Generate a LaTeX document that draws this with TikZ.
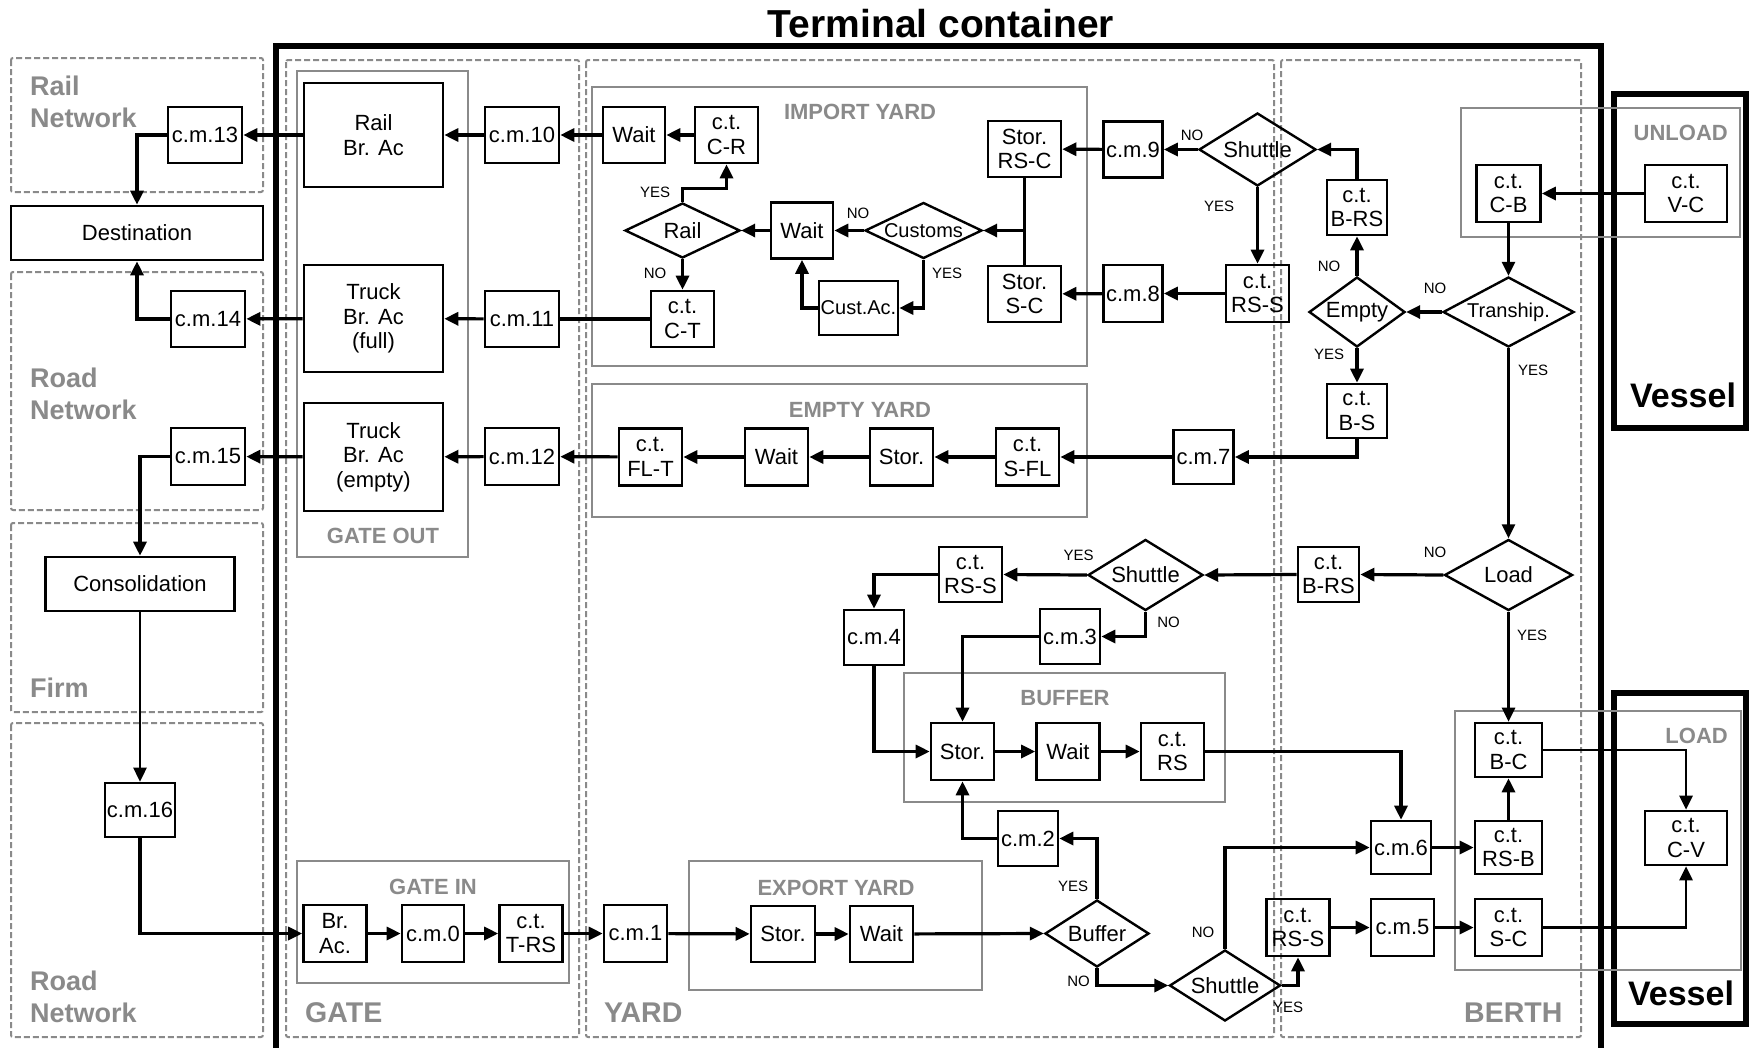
\documentclass[tikz,border=0pt]{standalone}
\usepackage{fontspec}
\setmainfont{Liberation Sans}
\usetikzlibrary{arrows.meta,shapes.geometric}
\definecolor{sgray}{HTML}{8A8A8A}
\tikzset{
 wh/.style 2 args={minimum width=#1pt,minimum height=#2pt},
 bx/.style={draw, line width=2.6pt, inner sep=0pt, align=center, font=\fontsize{22}{24.5}\selectfont},
 bxs/.style={bx, font=\fontsize{20}{22}\selectfont},
 dm/.style={draw, diamond, line width=2.4pt, inner sep=0pt, font=\fontsize{22}{24}\selectfont},
 dms/.style={dm, font=\fontsize{20}{22}\selectfont},
 conn/.style={line width=3.2pt, -{Triangle[length=14pt,width=13pt]}},
 plain/.style={line width=3.2pt},
 yn/.style={font=\fontsize{15}{15}\selectfont, inner sep=0pt},
 glab/.style={text=sgray, font=\bfseries\fontsize{22}{22}\selectfont, inner sep=0pt},
 gbig/.style={text=sgray, font=\bfseries\fontsize{27}{27}\selectfont, inner sep=0pt},
 gbigger/.style={text=sgray, font=\bfseries\fontsize{28.5}{28.5}\selectfont, inner sep=0pt},
 dbox/.style={draw=sgray, dash pattern=on 6pt off 3pt, line width=2pt, rounded corners=2pt},
 gbox/.style={draw=sgray, line width=2.6pt},
 thickbox/.style={draw=black, line width=6pt},
}
\begin{document}
\begin{tikzpicture}[x=1pt,y=-1pt]
\useasboundingbox (0,0) rectangle (1750,1047);
\fill[white] (0,0) rectangle (1750,1047);

% dashed regions
\draw[dbox] (11,58) rectangle (263,192);
\draw[dbox] (11,272) rectangle (263,510);
\draw[dbox] (11,523) rectangle (263,712);
\draw[dbox] (11,723) rectangle (263,1037);
\draw[dbox] (286,60) rectangle (579,1037);
\draw[dbox] (586,60) rectangle (1274,1037);
\draw[dbox] (1281,60) rectangle (1581,1037);

% gray group boxes
\draw[gbox] (297,71) rectangle (468,557);
\draw[gbox] (592,87) rectangle (1087,366);
\draw[gbox] (592,384) rectangle (1087,517);
\draw[gbox] (904,673) rectangle (1225,802);
\draw[gbox] (689,861) rectangle (982,990);
\draw[gbox] (297,861) rectangle (569,983);

% terminal and vessels
\draw[line width=5.5pt] (276,1080) -- (276,46) -- (1601,46) -- (1601,1080);
\draw[thickbox] (1614,94) rectangle (1746,428);
\draw[thickbox] (1614,693) rectangle (1746,1024);
\draw[gbox] (1461,108) rectangle (1740,237);
\draw[gbox] (1455,711) rectangle (1741,970);

% titles and labels
\node[font=\bfseries\fontsize{39}{39}\selectfont, anchor=base, inner sep=0pt] (title) at (941,37) {Terminal container};
\node[gbig, anchor=base west] (lrail1) at (30,95) {Rail};
\node[gbig, anchor=base west] (lrail2) at (30,127) {Network};
\node[gbig, anchor=base west] (lroad1) at (30,387) {Road};
\node[gbig, anchor=base west] (lroad2) at (30,419) {Network};
\node[gbig, anchor=base west] (lfirm) at (30,697) {Firm};
\node[gbig, anchor=base west] (lroad3) at (30,990) {Road};
\node[gbig, anchor=base west] (lroad4) at (30,1022) {Network};
\node[gbigger, anchor=base west] (lgate) at (305,1022) {GATE};
\node[gbigger, anchor=base west] (lyard) at (604,1022) {YARD};
\node[gbigger, anchor=base west] (lberth) at (1464,1022) {BERTH};
\node[glab, anchor=base] (lgo) at (383,543) {GATE OUT};
\node[glab, anchor=base] (lgi) at (433,894) {GATE IN};
\node[glab, anchor=base] (liy) at (860,119) {IMPORT YARD};
\node[glab, anchor=base] (ley) at (860,417) {EMPTY YARD};
\node[glab, anchor=base] (lxy) at (836,895) {EXPORT YARD};
\node[glab, anchor=base] (lbuf) at (1065,705) {BUFFER};
\node[glab, anchor=base east] (lunl) at (1728,140) {UNLOAD};
\node[glab, anchor=base east] (lload) at (1728,743) {LOAD};
\node[font=\bfseries\fontsize{34}{34}\selectfont, anchor=base, inner sep=0pt] (lv1) at (1683,407) {Vessel};
\node[font=\bfseries\fontsize{34}{34}\selectfont, anchor=base, inner sep=0pt] (lv2) at (1681,1005) {Vessel};

% left side nodes
\node[bx, wh={74}{56}] (cm13) at (205,135) {c.m.13};
\node[bx, wh={252}{54}] (dest) at (137,233) {Destination};
\node[bx, wh={74}{56}] (cm14) at (208,319) {c.m.14};
\node[bx, wh={74}{57}] (cm15) at (208,456.5) {c.m.15};
\node[bx, wh={189}{54}] (consol) at (140,584) {Consolidation};
\node[bx, wh={70}{54}] (cm16) at (140,810) {c.m.16};

% gate nodes
\node[bx, wh={139}{104}] (railbr) at (373.5,135) {Rail\\Br. Ac};
\node[bx, wh={139}{107}] (truckfull) at (373.5,318.5) {Truck\\Br. Ac\\ (full)};
\node[bx, wh={139}{108}] (truckempty) at (373.5,457) {Truck\\Br. Ac\\(empty)};
\node[bx, wh={74}{56}] (cm10) at (522,135) {c.m.10};
\node[bx, wh={74}{56}] (cm11) at (522,319) {c.m.11};
\node[bx, wh={74}{57}] (cm12) at (522,456.5) {c.m.12};
\node[bx, wh={63}{57}] (brac) at (335,933.5) {Br.\\Ac.};
\node[bx, wh={62}{57}] (cm0) at (433,933.5) {c.m.0};
\node[bx, wh={63}{57}] (cttrs) at (531,933.5) {c.t.\\T-RS};

% export / buffer
\node[bx, wh={63}{57}] (cm1) at (635.5,933.5) {c.m.1};
\node[bx, wh={64}{56}] (storx) at (783,934) {Stor.};
\node[bx, wh={63}{56}] (waitx) at (881.5,934) {Wait};
\node[dm, wh={104}{67}, aspect=1.55] (bufd) at (1097,933.5) {Buffer};
\node[bx, wh={60}{55}] (cm2) at (1028,838.5) {c.m.2};
\node[bx, wh={63}{57}] (storb) at (962.5,751.5) {Stor.};
\node[bx, wh={63}{57}] (waitb) at (1068,751.5) {Wait};
\node[bx, wh={63}{57}] (ctrs) at (1172.5,751.5) {c.t.\\RS};
\node[bx, wh={60}{55}] (cm4) at (874,637.5) {c.m.4};
\node[bx, wh={60}{55}] (cm3) at (1070,636.5) {c.m.3};
\node[bx, wh={63}{55}] (ctrssm) at (970.5,574.5) {c.t.\\RS-S};
\node[dm, wh={115}{71}, aspect=1.62] (shm) at (1145.5,575) {Shuttle};

% import yard
\node[bx, wh={62}{56}] (waitt) at (634,135) {Wait};
\node[bx, wh={63}{56}] (ctcr) at (726.5,135) {c.t.\\C-R};
\node[dm, wh={115}{55}, aspect=2.09] (raild) at (682.5,230.5) {Rail};
\node[bx, wh={63}{56}] (ctct) at (682.5,319) {c.t.\\C-T};
\node[bx, wh={62}{56}] (waitm) at (802,230.5) {Wait};
\node[dms, wh={117}{56}, aspect=2.09] (cust) at (923.5,230.5) {Customs};
\node[bxs, wh={79}{54}] (custac) at (858.5,308) {Cust.Ac.};
\node[bx, wh={73}{56}] (storrsc) at (1024.5,149) {Stor.\\RS-C};
\node[bx, wh={73}{56}] (storsc) at (1024.5,294) {Stor.\\S-C};
\node[bx, wh={59}{56}] (cm9) at (1133,149.5) {c.m.9};
\node[bx, wh={59}{57}] (cm8) at (1133,293.5) {c.m.8};
\node[dm, wh={117}{73}, aspect=1.6] (sht) at (1257.5,149.5) {Shuttle};
\node[bx, wh={63}{57}] (ctrsst) at (1257.5,293.5) {c.t.\\RS-S};

% empty yard
\node[bx, wh={63}{57}] (ctflt) at (650.5,457) {c.t.\\FL-T};
\node[bx, wh={63}{57}] (waite) at (776.5,457) {Wait};
\node[bx, wh={63}{57}] (store) at (901.5,457) {Stor.};
\node[bx, wh={63}{57}] (ctsfl) at (1027.5,457) {c.t.\\S-FL};
\node[bx, wh={60}{54}] (cm7) at (1203.5,457) {c.m.7};

% berth
\node[bx, wh={60}{55}] (ctbrst) at (1357,207.5) {c.t.\\B-RS};
\node[dm, wh={96}{70}, aspect=1.37] (emptyd) at (1357,312) {Empty};
\node[bx, wh={60}{54}] (ctbs) at (1357,411) {c.t.\\B-S};
\node[dms, wh={131}{70}, aspect=1.87] (trans) at (1508.5,312) {Tranship.};
\node[bx, wh={64}{57}] (ctcb) at (1508.5,193.5) {c.t.\\C-B};
\node[bx, wh={82}{57}] (ctvc) at (1686,193.5) {c.t.\\V-C};
\node[bx, wh={61}{55}] (ctbrsm) at (1328.5,574.5) {c.t.\\B-RS};
\node[dm, wh={128}{71}, aspect=1.8] (loadd) at (1508.5,575) {Load};
\node[bx, wh={67}{54}] (ctbc) at (1508.5,750) {c.t.\\B-C};
\node[bx, wh={67}{53}] (ctrsb) at (1508.5,847.5) {c.t.\\RS-B};
\node[bx, wh={67}{57}] (ctsc) at (1508.5,927.5) {c.t.\\S-C};
\node[bx, wh={60}{53}] (cm6) at (1401,847.5) {c.m.6};
\node[bx, wh={63}{57}] (cm5) at (1402.5,927.5) {c.m.5};
\node[bx, wh={63}{57}] (ctrssb) at (1298,927.5) {c.t.\\RS-S};
\node[dm, wh={111}{71}, aspect=1.56] (shb) at (1225,985.5) {Shuttle};
\node[bx, wh={82}{54}] (ctcv) at (1686,838) {c.t.\\C-V};

% connectors: left / gate
\draw[conn] (cm10) -- (railbr);
\draw[conn] (railbr) -- (cm13);
\draw[conn] (cm13.west) -| (dest.north);
\draw[conn] (cm14.west) -| (dest.south);
\draw[conn] (cm11) -- (truckfull);
\draw[conn] (truckfull) -- (cm14);
\draw[conn] (cm12) -- (truckempty);
\draw[conn] (truckempty) -- (cm15);
\draw[conn] (cm15.west) -| (consol.north);
\draw[conn, line width=2.6pt] (consol.south) -- (cm16.north);
\draw[conn] (cm16.south) |- (brac.west);
\draw[conn] (brac) -- (cm0);
\draw[conn] (cm0) -- (cttrs);
\draw[conn] (cttrs) -- (cm1);
\draw[conn] (cm1) -- (storx);
\draw[conn] (storx) -- (waitx);
\draw[conn] (waitx) -- (bufd.west);

% buffer area
\draw[conn] (bufd.north) |- (cm2.east);
\draw[conn] (cm2.west) -| (storb.south);
\draw[conn] (bufd.south) |- (shb.west);
\draw[conn] (shb.north) |- (cm6.west);
\draw[conn] (shb.east) -| (ctrssb.south);
\draw[conn] (ctrssb) -- (cm5);
\draw[conn] (cm5) -- (ctsc);
\draw[conn] (cm6) -- (ctrsb);
\draw[conn] (ctrsb) -- (ctbc);
\draw[conn, line width=2.6pt] (ctbc.east) -| (ctcv.north);
\draw[conn, line width=2.6pt] (ctsc.east) -| (ctcv.south);
\draw[conn] (storb) -- (waitb);
\draw[conn] (waitb) -- (ctrs);
\draw[conn] (ctrs.east) -| (cm6.north);
\draw[conn] (cm4.south) |- (storb.west);
\draw[conn] (cm3.west) -| (storb.north);
\draw[conn] (shm.south) |- (cm3.east);
\draw[conn] (shm.west) -- (ctrssm.east);
\draw[conn] (ctrssm.west) -| (cm4.north);
\draw[conn] (ctbrsm.west) -- (shm.east);
\draw[conn] (loadd.west) -- (ctbrsm.east);
\draw[conn, line width=2.6pt] (loadd.south) -- (ctbc.north);
\draw[conn, line width=2.6pt] (trans.south) -- (loadd.north);
\draw[conn] (trans.west) -- (emptyd.east);
\draw[conn, line width=2.6pt] (ctcb.south) -- (trans.north);
\draw[conn] (ctvc.west) -- (ctcb.east);
\draw[conn] (emptyd.north) -- (ctbrst.south);
\draw[conn] (emptyd.south) -- (ctbs.north);
\draw[conn] (ctbs.south) |- (cm7.east);
\draw[conn] (cm7) -- (ctsfl);
\draw[conn] (ctsfl) -- (store);
\draw[conn] (store) -- (waite);
\draw[conn] (waite) -- (ctflt);
\draw[conn] (ctflt) -- (cm12);

% import yard connectors
\draw[conn] (ctbrst.north) |- (sht.east);
\draw[conn] (sht.west) -- (cm9.east);
\draw[conn] (sht.south) -- (ctrsst.north);
\draw[conn] (cm9) -- (storrsc);
\draw[conn] (ctrsst) -- (cm8);
\draw[conn] (cm8) -- (storsc);
\draw[plain] (storrsc.south) -- (storsc.north);
\coordinate (jn) at (storrsc.south |- cust.east);
\draw[conn] (jn) -- (cust.east);
\draw[conn] (cust.west) -- (waitm.east);
\draw[conn] (cust.south) |- (custac.east);
\draw[conn] (custac.west) -| (waitm.south);
\draw[conn] (waitm.west) -- (raild.east);
\draw[conn] (raild.north) -- ++(0,-13) -| (ctcr.south);
\draw[conn] (raild.south) -- (ctct.north);
\draw[conn] (ctcr) -- (waitt);
\draw[conn] (waitt) -- (cm10);
\draw[plain] (ctct.west) -- (cm11.east);

% yes/no labels
\node[yn] (n1) at (1192,135) {NO};
\node[yn] (y1) at (1219,206) {YES};
\node[yn] (n2) at (1329,266) {NO};
\node[yn] (n3) at (1435,288) {NO};
\node[yn] (y2) at (1329,354) {YES};
\node[yn] (y3) at (1533,370) {YES};
\node[yn] (y4) at (655,192) {YES};
\node[yn] (n4) at (655,273) {NO};
\node[yn] (n5) at (858,213) {NO};
\node[yn] (y5) at (947,273) {YES};
\node[yn] (y6) at (1078.5,555) {YES};
\node[yn] (n6) at (1168.5,622) {NO};
\node[yn] (n7) at (1435,552) {NO};
\node[yn] (y7) at (1532,635) {YES};
\node[yn] (y8) at (1073,886) {YES};
\node[yn] (n8) at (1078.5,981) {NO};
\node[yn] (n9) at (1203,932) {NO};
\node[yn] (y9) at (1288,1007) {YES};
\end{tikzpicture}
\end{document}
